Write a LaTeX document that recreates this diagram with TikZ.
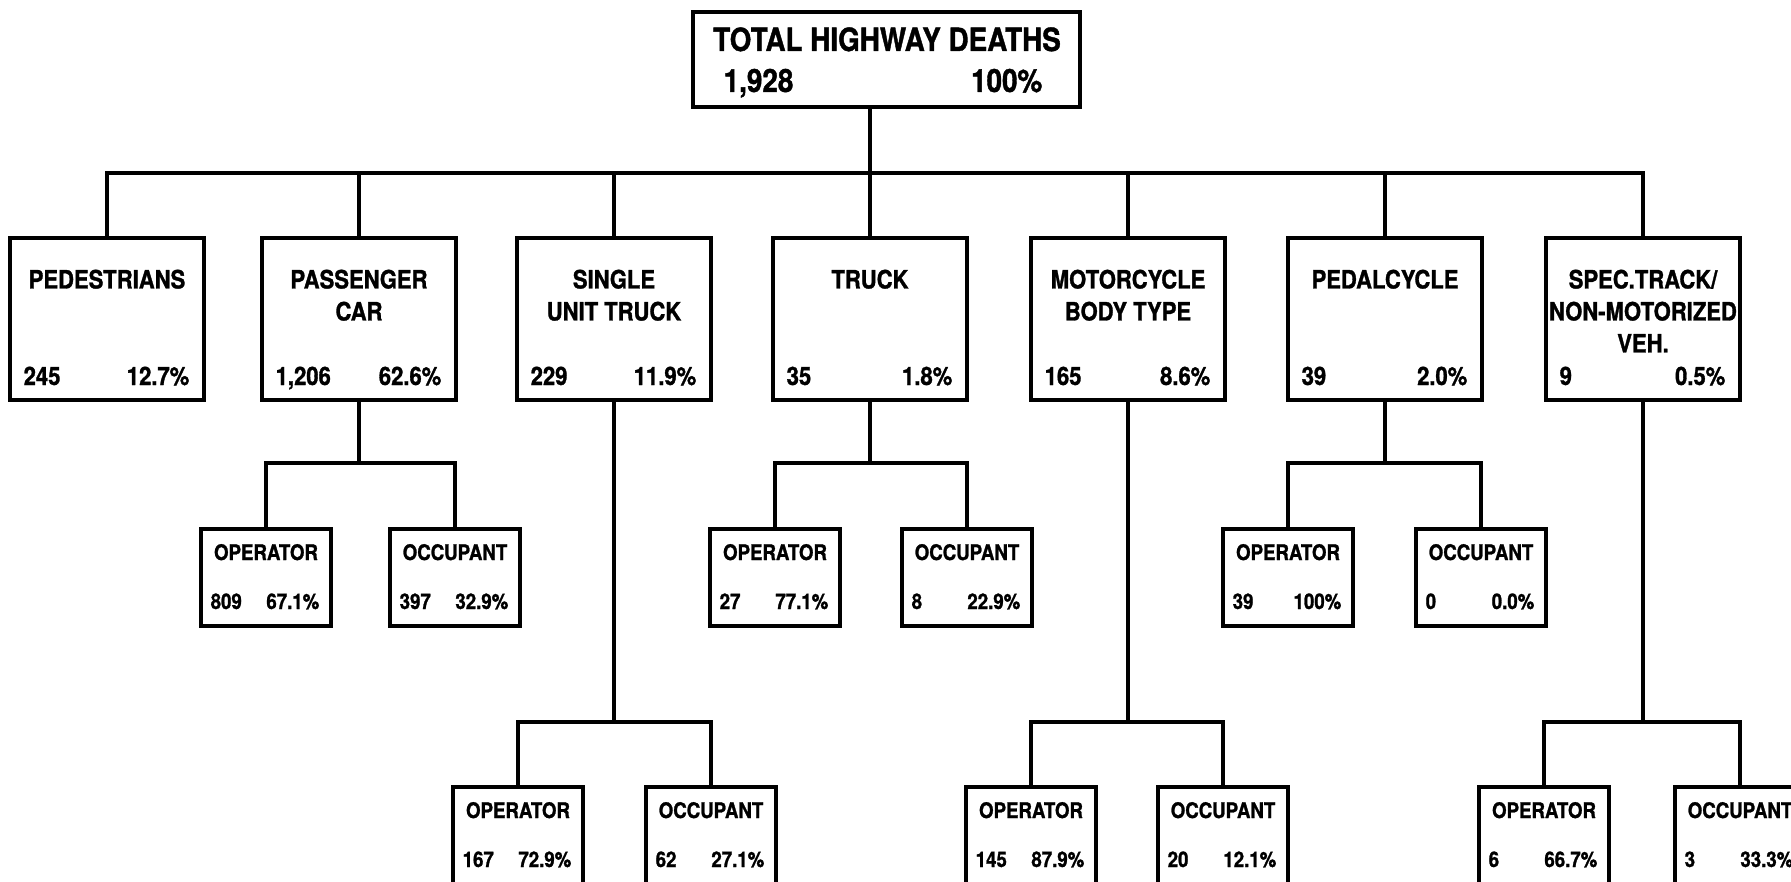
\documentclass[tikz,border=0pt]{standalone}
\usepackage{fontspec}
\newfontfamily\hw[FakeStretch=0.87,BoldFeatures={FakeBold=1.2}]{TeX Gyre Heros}
\newcommand\catnode[5]{%
  \node[catbox] (#1) at (#2,319) {};
  \node[ct, anchor=north] (#1-t) at (#2,269) {#3};
  \node[ct, anchor=base west] (#1-n) at ([shift={(-84,0)}]#2,385) {#4};
  \node[ct, anchor=base east] (#1-p) at ([shift={(83,0)}]#2,385) {#5};
}
\newcommand\subnode[6]{%
  \node[subbox, anchor=north] (#1) at (#2,#3) {};
  \node[st, anchor=base] (#1-t) at ([shift={(0,33)}]#2,#3) {#4};
  \node[st, anchor=base west] (#1-n) at ([shift={(-56,82)}]#2,#3) {#5};
  \node[st, anchor=base east] (#1-p) at ([shift={(54,82)}]#2,#3) {#6};
}
\begin{document}
\begin{tikzpicture}[x=0.01cm,y=-0.01cm,
  ln/.style={line width=0.034cm},
  bx/.style={draw, line width=0.04cm, inner sep=0pt},
  topbox/.style={bx, minimum width=3.87cm, minimum height=0.95cm},
  catbox/.style={bx, minimum width=1.93cm, minimum height=1.62cm},
  subbox/.style={bx, minimum width=1.29cm, minimum height=0.97cm},
  tt/.style={inner sep=0pt, font=\hw\bfseries\fontsize{9.1}{10}\selectfont},
  ct/.style={inner sep=0pt, align=center, font=\hw\bfseries\fontsize{7.2}{9.1}\selectfont},
  st/.style={inner sep=0pt, font=\hw\bfseries\fontsize{6.1}{7}\selectfont},
]
\fill[white] (0,0) rectangle (1791,882);
\clip (0,0) rectangle (1791,882);

% top
\node[topbox] (top) at (886.5,59.5) {};
\node[tt, anchor=base] (top-t) at (887,51) {TOTAL HIGHWAY DEATHS};
\node[tt, anchor=base west] (top-n) at (723,92) {1,928};
\node[tt, anchor=base east] (top-p) at (1043,92) {100\%};

% level 1
\catnode{ped}{107}{PEDESTRIANS}{245}{12.7\%}
\catnode{pas}{359}{PASSENGER\\CAR}{1,206}{62.6\%}
\catnode{sut}{614}{SINGLE\\UNIT TRUCK}{229}{11.9\%}
\catnode{trk}{870}{TRUCK}{35}{1.8\%}
\catnode{mot}{1128}{MOTORCYCLE\\BODY TYPE}{165}{8.6\%}
\catnode{pdc}{1385}{PEDALCYCLE}{39}{2.0\%}
\catnode{spc}{1643}{SPEC.TRACK/\\NON-MOTORIZED\\VEH.}{9}{0.5\%}

% middle row
\subnode{pas-op}{266}{527}{OPERATOR}{809}{67.1\%}
\subnode{pas-oc}{455}{527}{OCCUPANT}{397}{32.9\%}
\subnode{trk-op}{775}{527}{OPERATOR}{27}{77.1\%}
\subnode{trk-oc}{967}{527}{OCCUPANT}{8}{22.9\%}
\subnode{pdc-op}{1288}{527}{OPERATOR}{39}{100\%}
\subnode{pdc-oc}{1481}{527}{OCCUPANT}{0}{0.0\%}

% bottom row
\subnode{sut-op}{518}{785}{OPERATOR}{167}{72.9\%}
\subnode{sut-oc}{711}{785}{OCCUPANT}{62}{27.1\%}
\subnode{mot-op}{1031}{785}{OPERATOR}{145}{87.9\%}
\subnode{mot-oc}{1223}{785}{OCCUPANT}{20}{12.1\%}
\subnode{spc-op}{1544}{785}{OPERATOR}{6}{66.7\%}
\subnode{spc-oc}{1740}{785}{OCCUPANT}{3}{33.3\%}

% connectors
\coordinate (bus) at (0,173);
\coordinate (mid) at (0,463);
\coordinate (low) at (0,722);
\draw[ln] (top.south -| trk.north) -- (trk.north);
\draw[ln] (ped.north) -- (ped.north |- bus) -- (spc.north |- bus) -- (spc.north);
\foreach \n in {pas,sut,mot,pdc} \draw[ln] (\n.north) -- (\n.north |- bus);

\foreach \p in {pas,trk,pdc} {
  \draw[ln] (\p.south) -- (\p.south |- mid);
  \draw[ln] (\p-op.north) -- (\p-op.north |- mid) -- (\p-oc.north |- mid) -- (\p-oc.north);
}
\foreach \p in {sut,mot,spc} {
  \draw[ln] (\p.south) -- (\p.south |- low);
  \draw[ln] (\p-op.north) -- (\p-op.north |- low) -- (\p-oc.north |- low) -- (\p-oc.north);
}
\end{tikzpicture}
\end{document}
